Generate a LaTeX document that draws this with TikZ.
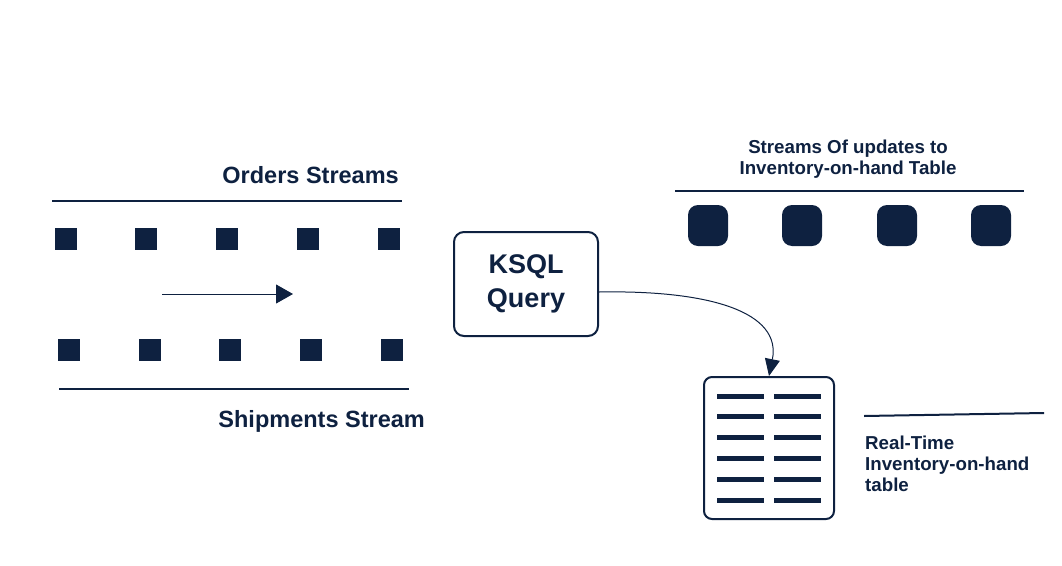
\documentclass[tikz,border=0pt]{standalone}
\usepackage{fontspec}
\setmainfont{Liberation Sans}
\usepackage{tikz}
\tikzset{every picture/.style={/utils/exec={\bfseries}}}
\usetikzlibrary{positioning, arrows.meta}
\definecolor{Stream_navy}{HTML}{0E2140}

\begin{document}
\begin{tikzpicture}[x=1pt, y=-1pt,
    title/.style={inner sep=0pt, text=Stream_navy, font=\bfseries\fontsize{23.5}{28}\selectfont},
    caption/.style={inner sep=0pt, text=Stream_navy, align=#1, font=\bfseries\fontsize{18.7}{21}\selectfont},
    caption/.default=left,
    rail/.style={draw=Stream_navy, line width=2pt},
    panel/.style={draw=Stream_navy, line width=2pt, rounded corners=#1, fill=white}]
        \useasboundingbox (0,0) rectangle (1062,565);

        % orders
        \node[title, anchor=base east] (orders) at (399,183) {Orders Streams};
        \draw[rail] (52,201) -- (402,201);
        \foreach \x in {65.5, 146, 227, 308, 389}
            \fill[Stream_navy] (\x-11, 228) rectangle +(22,22);

        \coordinate (flow_start) at (162,294);
        \coordinate (flow_end) at (293,294);
        \draw[Stream_navy, line width=1pt, -{Triangle[length=17pt, width=19pt]}] (flow_start) -- (flow_end);

        % shipments
        \foreach \x in {69, 149.5, 230, 311, 392}
            \fill[Stream_navy] (\x-11, 339) rectangle +(22,22);
        \draw[rail] (59,389) -- (409,389);
        \node[title, anchor=base east] (shipments) at (425,427) {Shipments Stream};

        % query
        \node[panel=10pt, minimum width=144pt, minimum height=104pt, text=Stream_navy, align=center,
            font=\bfseries\fontsize{27}{34}\selectfont] (ksql) at (526,284) {KSQL\\Query};

        % updates
        \node[caption=center] (updates) at (848,159.5) {Streams Of updates to\\Inventory-on-hand Table};
        \draw[rail] (675,191) -- (1024,191);
        \foreach \x in {708, 802, 897, 991}
            \fill[Stream_navy, rounded corners=10pt] (\x-20, 205) rectangle +(40,41);

        % table
        \node[panel=8pt, minimum width=130pt, minimum height=142pt] (inventory) at (769,448) {};
        \foreach \r in {0,...,5} {
            \draw[Stream_navy, line width=5pt] (717, 396+\r*20.8) -- +(47,0);
            \draw[Stream_navy, line width=5pt] (774, 396+\r*20.8) -- +(47,0);
        }
        \draw[rail] (864,416) -- (1044,413);
        \node[caption, anchor=west] (realtime) at (865,463.5) {Real-Time\\Inventory-on-hand\\table};

        \draw[Stream_navy, line width=1pt, -{Triangle[length=17pt, width=15pt]}]
            ([yshift=-8pt]ksql.east) .. controls (710,290) and (782,312) .. (inventory.north);
    \end{tikzpicture}
\end{document}
